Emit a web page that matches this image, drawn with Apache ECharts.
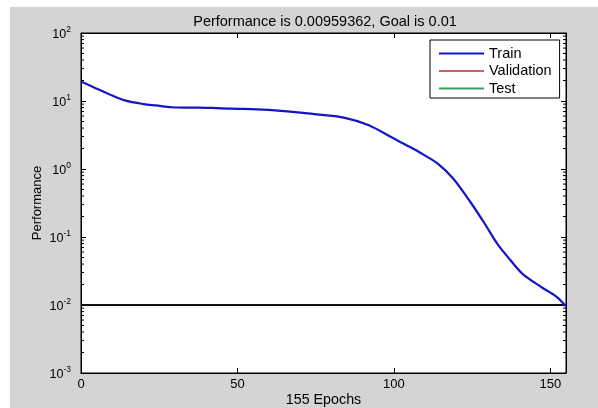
<!DOCTYPE html>
<html>
<head>
<meta charset="utf-8">
<script src="https://cdn.jsdelivr.net/npm/echarts@6/dist/echarts.min.js"></script>
<style>
html,body{margin:0;padding:0;background:#fff;}
#c{width:598px;height:408px;}
</style>
</head>
<body>
<div id="c"></div>
<script>
// Data
const epochs = [0, 5, 9, 14, 20, 24, 29, 35, 42, 48, 52, 56, 62, 71, 76, 84, 92, 100, 102, 105, 108, 114, 119, 124, 129, 133, 137, 141, 147, 152, 155];
const trainPerf = [19.4, 15.2, 12.6, 10.2, 9.0, 8.6, 8.1, 8.0, 7.9, 7.7, 7.65, 7.55, 7.3, 6.7, 6.3, 5.7, 4.4, 2.8, 2.5, 2.12, 1.78, 1.2, 0.72, 0.35, 0.158, 0.08, 0.047, 0.029, 0.0185, 0.0132, 0.0096];
const goalEpochs = [0, 155];
const goalValue = [0.01, 0.01];
const xTicks = [0, 50, 100, 150];
const yDecades = [0.001, 0.01, 0.1, 1, 10, 100];
const titleText = 'Performance is 0.00959362, Goal is 0.01';
const xName = '155 Epochs';
const yName = 'Performance';
const legendNames = ['Train', 'Validation', 'Test'];

// minor tick values (2..9 x 10^e) for the log axis
const minorVals = [];
for (let i = 0; i < yDecades.length - 1; i++) {
  for (let k = 2; k <= 9; k++) minorVals.push(+(k * yDecades[i]).toPrecision(3));
}

const FONT = "'Liberation Sans', Arial, sans-serif";
const chart = echarts.init(document.getElementById('c'), null, {renderer: 'canvas'});

const yLabel = {
  color: '#000',
  fontFamily: FONT,
  margin: 10,
  formatter: function (v) {
    const e = Math.round(Math.log10(v));
    return '{b|10}{s|' + e + '}';
  },
  rich: {
    b: {fontSize: 12.5, fontFamily: FONT, color: '#000', lineHeight: 16, verticalAlign: 'bottom'},
    s: {fontSize: 8.5, fontFamily: FONT, color: '#000', verticalAlign: 'top', lineHeight: 10}
  }
};

const baseX = {
  type: 'value', min: 0, max: 155, interval: 50,
  axisLine: {show: true, onZero: false, lineStyle: {color: '#000', width: 1}},
  axisTick: {show: true, inside: true, length: 5, lineStyle: {color: '#000'}},
  splitLine: {show: false}
};
const baseY = {
  type: 'log', logBase: 10, min: 0.001, max: 100,
  axisLine: {show: true, onZero: false, lineStyle: {color: '#000', width: 1}},
  axisTick: {show: true, inside: true, length: 5, lineStyle: {color: '#000'}},
  splitLine: {show: false}
};

chart.setOption({
  backgroundColor: '#ffffff',
  animation: false,
  graphic: [{
    type: 'rect', z: -10, silent: true,
    shape: {x: 10, y: 7, width: 588, height: 401},
    style: {fill: '#d5d3d5'}
  }],
  title: {
    text: titleText, left: 320, top: 9, textAlign: 'center',
    textStyle: {fontSize: 14.5, fontWeight: 'normal', color: '#000', fontFamily: FONT}
  },
  grid: {
    left: 81, top: 33, right: 32, bottom: 35,
    outerBoundsMode: 'none', containLabel: false,
    show: true, backgroundColor: '#ffffff', borderColor: '#000', borderWidth: 1
  },
  legend: {
    orient: 'vertical', left: 430, top: 40,
    data: legendNames,
    itemWidth: 45, itemHeight: 14, itemGap: 2.5,
    padding: [6, 8, 2, 8],
    backgroundColor: '#ffffff', borderColor: '#000', borderWidth: 1, borderRadius: 0,
    textStyle: {fontSize: 14.5, color: '#000', fontFamily: FONT, padding: [0, 0, 0, 0]},
    itemStyle: {opacity: 0}
  },
  xAxis: [
    Object.assign({}, baseX, {
      position: 'bottom',
      name: xName, nameLocation: 'middle', nameGap: 20, nameMoveOverlap: false,
      nameTextStyle: {fontSize: 14.3, color: '#000', fontFamily: FONT},
      axisLabel: {color: '#000', fontSize: 13, fontFamily: FONT, margin: 5}
    }),
    Object.assign({}, baseX, {position: 'top', axisLabel: {show: false}})
  ],
  yAxis: [
    Object.assign({}, baseY, {
      position: 'left',
      name: yName, nameLocation: 'middle', nameGap: 37, nameRotate: 90, nameMoveOverlap: false,
      nameTextStyle: {fontSize: 13, color: '#000', fontFamily: FONT},
      axisLabel: yLabel
    }),
    Object.assign({}, baseY, {position: 'right', axisLabel: {show: false}})
  ],
  series: [
    {
      name: 'Goal', type: 'line', xAxisIndex: 0, yAxisIndex: 0,
      data: goalEpochs.map((e, i) => [e, goalValue[i]]),
      symbol: 'none', lineStyle: {color: '#111', width: 2}, z: 3
    },
    {
      name: 'Train', type: 'line', xAxisIndex: 0, yAxisIndex: 0,
      data: epochs.map((e, i) => [e, trainPerf[i]]),
      symbol: 'none', smooth: 0.3,
      lineStyle: {color: '#1414c8', width: 2.2}, itemStyle: {color: '#1414c8'}, z: 4
    },
    {
      name: 'Validation', type: 'line', data: [], symbol: 'none',
      lineStyle: {color: '#d06060', width: 1}, itemStyle: {color: '#d06060'}
    },
    {
      name: 'Test', type: 'line', data: [], symbol: 'none',
      lineStyle: {color: '#40a060', width: 1}, itemStyle: {color: '#40a060'}
    },
    {
      name: 'minorTicks', type: 'custom', xAxisIndex: 0, yAxisIndex: 0,
      data: minorVals.map(v => [0, v]),
      silent: true, clip: false, z: 5,
      renderItem: function (params, api) {
        const v = api.value(1);
        const pl = api.coord([0, v]);
        const pr = api.coord([155, v]);
        return {
          type: 'group',
          children: [
            {type: 'line', shape: {x1: pl[0], y1: pl[1], x2: pl[0] + 3, y2: pl[1]}, style: {stroke: '#000', lineWidth: 1}},
            {type: 'line', shape: {x1: pr[0], y1: pr[1], x2: pr[0] - 3, y2: pr[1]}, style: {stroke: '#000', lineWidth: 1}}
          ]
        };
      }
    }
  ]
});
</script>
</body>
</html>
